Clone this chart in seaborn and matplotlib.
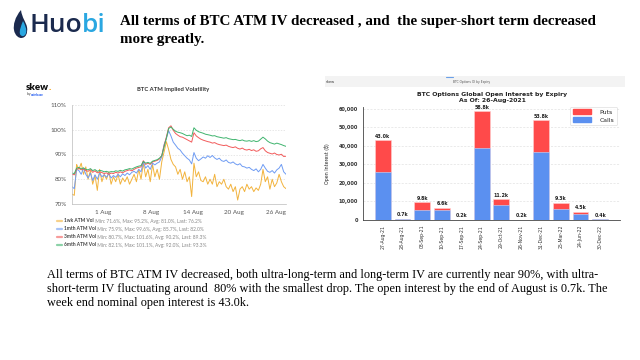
import numpy as np
import pandas as pd
import matplotlib
matplotlib.use("Agg")
import matplotlib.pyplot as plt
import seaborn as sns
from matplotlib.patches import Rectangle, PathPatch, Patch
from matplotlib.path import Path
from matplotlib.lines import Line2D

sns.set_theme(style="white")
plt.rcParams['font.family'] = ['DejaVu Sans']

# ---------------- data ----------------
iv_start = "2021-07-27 12:00"
iv_1wk = [74.0, 73.5, 86.0, 84.0, 86.5, 82.0, 85.0, 80.0, 83.5, 78.0, 81.5, 75.5,
          84.0, 79.0, 82.0, 80.0, 83.0, 78.0, 81.0, 79.0, 82.0, 78.0, 80.5, 79.0,
          81.0, 78.0, 80.0, 82.0, 79.0, 84.0, 80.0, 86.5, 81.0, 84.0, 79.0, 86.0,
          81.0, 84.0, 80.0, 87.0, 91.0, 95.2, 92.0, 88.0, 86.0, 85.0, 82.0, 84.0,
          80.0, 83.0, 79.0, 81.0, 73.0, 86.5, 81.0, 83.0, 79.5, 79.0, 81.0, 78.0,
          80.0, 78.0, 82.0, 77.0, 79.0, 78.0, 80.0, 77.0, 76.0, 78.0, 75.0, 77.0,
          71.6, 76.0, 77.0, 75.0, 78.0, 76.0, 77.0, 75.0, 76.5, 75.5, 78.0, 84.0,
          79.0, 81.0, 76.0, 80.0, 77.0, 78.5, 82.0, 79.0, 77.0, 76.2]
iv_1mth = [77.0, 76.2, 84.0, 83.5, 82.0, 84.5, 82.0, 80.5, 82.5, 79.5, 81.8, 80.0,
           82.5, 81.0, 81.8, 80.8, 82.3, 80.5, 81.5, 80.8, 82.0, 81.0, 82.2, 81.5,
           82.5, 81.8, 82.8, 83.2, 82.5, 84.0, 83.0, 87.0, 84.5, 85.5, 84.0, 86.5,
           85.8, 86.5, 87.0, 89.0, 94.0, 96.5, 99.6, 97.5, 95.0, 93.8, 92.5, 91.8,
           90.5, 89.5, 88.5, 87.8, 86.2, 90.8, 88.5, 87.5, 88.2, 89.0, 88.5, 89.5,
           88.8, 89.6, 88.6, 88.0, 88.5, 87.5, 87.2, 87.8, 86.8, 86.5, 87.0, 86.2,
           85.8, 86.3, 85.2, 85.0, 84.5, 84.8, 84.0, 83.5, 84.2, 83.0, 84.0, 86.0,
           84.5, 83.2, 82.8, 83.5, 82.5, 83.8, 84.5, 86.0, 83.0, 82.0]
iv_3mth = [82.0, 81.8, 84.0, 84.5, 83.8, 84.2, 83.5, 83.2, 83.9, 82.8, 83.4, 82.6,
           83.0, 82.7, 82.3, 82.6, 82.0, 82.5, 82.3, 82.8, 82.5, 83.0, 82.6, 83.2,
           83.5, 83.8, 83.4, 84.0, 84.5, 84.8, 85.0, 87.5, 86.0, 86.5, 86.0, 87.0,
           87.3, 87.6, 88.2, 89.5, 93.5, 97.0, 100.8, 101.6, 99.8, 98.5, 97.8, 97.2,
           97.0, 96.5, 96.0, 95.5, 95.0, 98.8, 97.5, 96.8, 96.2, 95.8, 95.5, 95.2,
           95.0, 94.6, 94.8, 94.3, 94.0, 93.8, 93.6, 93.8, 93.3, 93.0, 92.8, 93.1,
           92.5, 92.2, 92.6, 92.0, 91.8, 92.1, 91.6, 91.9, 91.3, 91.5, 92.3, 92.8,
           91.5, 90.8, 90.5, 90.2, 90.6, 90.0, 89.8, 90.1, 89.2, 89.3]
iv_6mth = [82.5, 82.3, 84.5, 84.8, 84.2, 84.6, 84.0, 83.8, 84.3, 83.5, 83.9, 83.2,
           83.6, 83.4, 83.0, 83.2, 82.8, 83.1, 83.0, 83.4, 83.2, 83.6, 83.3, 83.8,
           84.0, 84.3, 84.1, 84.6, 85.0, 85.3, 85.5, 87.2, 86.5, 86.8, 86.4, 87.3,
           87.6, 87.9, 88.5, 89.5, 93.0, 96.5, 100.5, 101.1, 100.2, 99.4, 99.0, 98.8,
           98.5, 98.0, 97.6, 97.8, 97.3, 100.8, 99.8, 99.2, 98.9, 98.6, 98.2, 98.0,
           97.8, 97.5, 97.6, 97.2, 97.0, 96.8, 96.6, 96.8, 96.4, 96.2, 96.0, 96.1,
           95.8, 95.6, 95.9, 95.5, 95.4, 95.6, 95.3, 95.6, 95.2, 95.4, 96.2, 97.0,
           96.3, 95.4, 94.8, 94.5, 94.2, 94.6, 94.3, 94.0, 93.6, 93.3]
iv_names = ["1wk ATM Vol", "1mth ATM Vol", "3mth ATM Vol", "6mth ATM Vol"]
iv_stats = ["Min: 71.6%, Max: 95.2%, Avg: 81.0%, Last: 76.2%",
            "Min: 75.9%, Max: 99.6%, Avg: 85.7%, Last: 82.0%",
            "Min: 80.7%, Max: 101.6%, Avg: 90.2%, Last: 89.3%",
            "Min: 82.1%, Max: 101.1%, Avg: 92.0%, Last: 93.3%"]
iv_ticks = ["2021-08-01", "2021-08-08", "2021-08-14", "2021-08-20", "2021-08-26"]
iv_tick_labels = ["1 Aug", "8 Aug", "14 Aug", "20 Aug", "26 Aug"]
iv_yticks = [70, 80, 90, 100, 110]

expiries = ["27-Aug-21", "28-Aug-21", "03-Sep-21", "10-Sep-21", "17-Sep-21", "24-Sep-21",
            "29-Oct-21", "26-Nov-21", "31-Dec-21", "25-Mar-22", "24-Jun-22", "30-Dec-22"]
oi_total = [43000, 700, 9800, 6600, 200, 58800, 11200, 200, 53800, 9300, 4500, 400]
oi_calls = [25700, 400, 5500, 5500, 150, 38900, 8300, 50, 36700, 6100, 3250, 350]
oi_labels = ["43.0k", "0.7k", "9.8k", "6.6k", "0.2k", "58.8k", "11.2k", "0.2k",
             "53.8k", "9.3k", "4.5k", "0.4k"]
oi_yticks = [0, 10000, 20000, 30000, 40000, 50000, 60000]

title_lines = ["All terms of BTC ATM IV decreased , and  the super-short term decreased",
               "more greatly."]
body_lines = ["All terms of BTC ATM IV decreased, both ultra-long-term and long-term IV are currently near 90%, with ultra-",
              "short-term IV fluctuating around  80% with the smallest drop. The open interest by the end of August is 0.7k. The",
              "week end nominal open interest is 43.0k."]

# ---------------- figure ----------------
W, H = 640, 360
fig = plt.figure(figsize=(6.4, 3.6), dpi=100)
fig.patch.set_facecolor("white")


def P(x, y):
    return (x / W, 1 - y / H)


# Huobi logo (flame icon + wordmark)
def pix_path(verts, codes):
    return Path([P(x, y) for x, y in verts], codes)

M, C, Z = Path.MOVETO, Path.CURVE4, Path.CLOSEPOLY
outer = pix_path([(21, 10), (15, 17), (13, 25), (14, 30), (15, 36), (19, 38), (21, 38),
                  (26, 38), (28, 33), (27, 27), (26, 22), (22, 18), (21, 10), (21, 10)],
                 [M, C, C, C, C, C, C, C, C, C, C, C, C, Z])
inner = pix_path([(23, 21), (21, 26), (19, 31), (20, 34), (21, 37), (25, 37), (26, 33),
                  (27, 29), (25, 25), (23, 21), (23, 21)],
                 [M, C, C, C, C, C, C, C, C, C, Z])
fig.add_artist(PathPatch(outer, facecolor="#1b2a4e", edgecolor="none", transform=fig.transFigure))
fig.add_artist(PathPatch(inner, facecolor="#2aa7e1", edgecolor="none", transform=fig.transFigure))

# Title
fig.text(*P(120, 22), title_lines[0], fontsize=10.8, family="Liberation Serif",
         fontweight="bold", va="center", ha="left", color="black")
fig.text(*P(120, 40), title_lines[1], fontsize=10.8, family="Liberation Serif",
         fontweight="bold", va="center", ha="left", color="black")

# Body text
for i, line in enumerate(body_lines):
    fig.text(*P(47, 275 + 14 * i), line, fontsize=8.85, family="Liberation Serif",
             va="center", ha="left", color="black")

# ---------------- left chart: IV lines ----------------
times = pd.date_range(iv_start, periods=len(iv_1wk), freq="8h")
df = pd.concat([pd.DataFrame({"time": times, "iv": v, "series": n})
                for v, n in zip([iv_1wk, iv_1mth, iv_3mth, iv_6mth], iv_names)])
iv_colors = ["#f2b33d", "#6f9cf3", "#f25b5b", "#3fb46e"]
ax1 = fig.add_axes([72 / W, 1 - 204 / H, 214 / W, 99 / H])
sns.lineplot(data=df, x="time", y="iv", hue="series", palette=iv_colors,
             linewidth=0.7, legend=False, ax=ax1)
ax1.set_xlim(times[0], times[-1])
ax1.set_ylim(70, 110)
ax1.set_yticks(iv_yticks)
ax1.set_yticklabels([f"{v}%" for v in iv_yticks])
ax1.set_xticks(pd.to_datetime(iv_ticks))
ax1.set_xticklabels(iv_tick_labels)
ax1.set_xlabel("")
ax1.set_ylabel("")
ax1.tick_params(axis="both", labelsize=4.5, colors="#bbbbbb", labelcolor="#555555",
                length=2, width=0.5, pad=2)
for lab in ax1.get_xticklabels() + ax1.get_yticklabels():
    lab.set_family("Lato")
ax1.yaxis.grid(True, linestyle=(0, (2, 2)), color="#dddddd", linewidth=0.5)
ax1.xaxis.grid(False)
for s in ["top", "right"]:
    ax1.spines[s].set_visible(False)
for s in ["left", "bottom"]:
    ax1.spines[s].set_color("#bbbbbb")
    ax1.spines[s].set_linewidth(0.5)

fig.text(*P(173, 89), "BTC ATM Implied Volatility", fontsize=4.2, family="Lato",
         fontweight="bold", color="#333333", ha="center", va="center")

# Huobi wordmark
t_huo = fig.text(*P(29, 26), "Huo", fontsize=19, family="Open Sans", fontweight="semibold",
                 color="#1b2a4e", va="center", ha="left")
ax1.annotate("bi", xy=(1, 0.5), xycoords=t_huo, fontsize=19, family="Open Sans",
             fontweight="semibold", color="#2aa7e1", ha="left", va="center",
             annotation_clip=False)

# skew logo
t_sk = fig.text(*P(26, 88), "skew", fontsize=7, family="Lato", fontweight="heavy",
                color="#111111", ha="left", va="center")
ax1.annotate(".", xy=(1, 0.5), xycoords=t_sk, fontsize=7, family="Lato",
             fontweight="heavy", color="#f5a623", ha="left", va="center",
             annotation_clip=False)
t_by = fig.text(*P(27, 94.5), "by ", fontsize=2.3, family="Lato", color="#333333",
                ha="left", va="center")
ax1.annotate("coinbase", xy=(1, 0.5), xycoords=t_by, fontsize=2.3, family="Lato",
             fontweight="bold", color="#1652f0", ha="left", va="center",
             annotation_clip=False)

# custom legend
for i, (name, stat, col) in enumerate(zip(iv_names, iv_stats, iv_colors)):
    yy = 221 + 8 * i
    fig.add_artist(Line2D([57 / W, 62 / W], [1 - yy / H] * 2, color=col, lw=1.6,
                          alpha=0.6, transform=fig.transFigure))
    tn = fig.text(*P(64.5, yy), name, fontsize=3.5, family="Lato", fontweight="bold",
                  color="#444444", ha="left", va="center")
    ax1.annotate(" " + stat, xy=(1, 0.5), xycoords=tn, fontsize=3.5, family="Lato",
                 color="#888888", ha="left", va="center", annotation_clip=False)

# ---------------- right chart: OI bars ----------------
# window chrome
fig.add_artist(Rectangle(P(325, 87), 300 / W, 11 / H, facecolor="#f3f3f3",
                         edgecolor="none", transform=fig.transFigure))
fig.add_artist(Line2D([446 / W, 453 / W], [1 - 76.5 / H] * 2, color="#6aa0e8", lw=0.8,
                      transform=fig.transFigure))
fig.text(*P(326, 82), "skew", fontsize=2.6, color="#333333", ha="left", va="center")
fig.text(*P(472, 82), "BTC Options OI by Expiry", fontsize=2.2, color="#555555",
         ha="center", va="center")

c_puts, c_calls = "#ff4a4a", "#5b90f0"
ax2 = fig.add_axes([363 / W, 1 - 220 / H, 257 / W, 113 / H])
sns.barplot(x=expiries, y=oi_total, color=c_puts, saturation=1, width=0.8,
            edgecolor="#ffd0d0", linewidth=0.4, ax=ax2)
sns.barplot(x=expiries, y=oi_calls, color=c_calls, saturation=1, width=0.8,
            edgecolor="#c8dcff", linewidth=0.4, ax=ax2)
ax2.set_xlim(-1, 12)
ax2.set_ylim(0, 61000)
ax2.set_yticks(oi_yticks)
ax2.set_yticklabels([f"{v:,}" for v in oi_yticks])
ax2.tick_params(axis="y", labelsize=3.6, length=2, width=0.5, pad=1.5, colors="#333333")
ax2.tick_params(axis="x", labelsize=3.3, length=2, width=0.5, pad=1.5,
                labelrotation=90, colors="#333333")
for lab in ax2.get_yticklabels():
    lab.set_fontweight("bold")
ax2.set_ylabel("Open Interest (\u20bf)", fontsize=3.4, labelpad=6,
               family=["DejaVu Sans", "Noto Sans"])
ax2.set_xlabel("")
ax2.yaxis.grid(True, linestyle=(0, (3, 2)), color="#e2e2e2", linewidth=0.5)
ax2.set_axisbelow(True)
for s in ["top", "right"]:
    ax2.spines[s].set_visible(False)
for s in ["left", "bottom"]:
    ax2.spines[s].set_color("#444444")
    ax2.spines[s].set_linewidth(0.6)
for i, (tot, lab) in enumerate(zip(oi_total, oi_labels)):
    ax2.text(i, tot + 700, lab, fontsize=3.4, fontweight="bold", ha="center",
             va="bottom", color="#222222")
leg = ax2.legend(handles=[Patch(color=c_puts, label="Puts"), Patch(color=c_calls, label="Calls")],
                 loc="upper right", bbox_to_anchor=(1.0, 1.03), fontsize=4.4,
                 frameon=True, handlelength=3.0, handleheight=0.9, borderpad=0.45,
                 labelspacing=0.3, handletextpad=1.4, fancybox=True)
leg.get_frame().set_linewidth(0.4)
leg.get_frame().set_edgecolor("#cccccc")
fig.text(*P(492, 94.5), "BTC Options Global Open Interest by Expiry", fontsize=4.4,
         fontweight="bold", ha="center", va="center", color="#222222")
fig.text(*P(492, 100.5), "As Of: 26-Aug-2021", fontsize=4.4,
         fontweight="bold", ha="center", va="center", color="#222222")

fig.savefig("out.png", dpi=100, facecolor="white")
